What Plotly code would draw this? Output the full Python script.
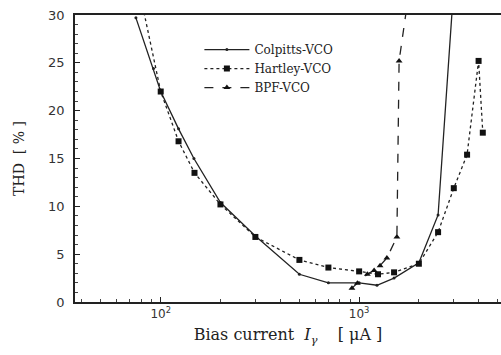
import plotly.graph_objects as go

# Data (bias current in uA, THD in %)
colpitts_x = [75, 92, 100, 123, 147, 200, 300, 500, 700, 1000, 1230, 1500, 2000, 2500, 3000]
colpitts_y = [29.7, 24.4, 22.0, 18.1, 15.0, 10.4, 6.9, 2.9, 2.0, 2.0, 1.75, 2.5, 4.1, 9.1, 33.0]

hartley_x = [80, 100, 123, 148, 200, 300, 500, 700, 1000, 1245, 1500, 2000, 2500, 3000, 3500, 4000, 4200]
hartley_y = [31.5, 22.0, 16.8, 13.5, 10.2, 6.8, 4.4, 3.6, 3.2, 2.9, 3.1, 4.0, 7.3, 11.9, 15.4, 25.2, 17.7]

bpf_x = [920, 980, 1100, 1190, 1275, 1380, 1550, 1590, 1800]
bpf_y = [1.45, 1.95, 2.9, 3.3, 3.8, 4.6, 6.8, 25.2, 33.0]

x_tickvals = [100, 1000]
x_ticktext = ["10<sup>2</sup>", "10<sup>3</sup>"]
y_tickvals = [0, 5, 10, 15, 20, 25, 30]

fig = go.Figure()
fig.add_trace(go.Scatter(x=colpitts_x, y=colpitts_y, name="Colpitts-VCO", mode="lines+markers",
                         line=dict(color="#222", width=1.3, dash="solid"),
                         marker=dict(symbol="circle", size=3, color="#222")))
fig.add_trace(go.Scatter(x=hartley_x, y=hartley_y, name="Hartley-VCO", mode="lines+markers",
                         line=dict(color="#222", width=1.3, dash="dot"),
                         marker=dict(symbol="square", size=6, color="#111")))
fig.add_trace(go.Scatter(x=bpf_x, y=bpf_y, name="BPF-VCO", mode="lines+markers",
                         line=dict(color="#222", width=1.3, dash="dash"),
                         marker=dict(symbol="triangle-up", size=6, color="#111")))

fig.update_layout(
    width=501, height=355,
    margin=dict(l=75, r=0, t=15, b=53),
    paper_bgcolor="white", plot_bgcolor="white",
    showlegend=True,
    legend=dict(x=0.292, y=0.93, xanchor="left", yanchor="top",
                font=dict(family="DejaVu Serif", size=12, color="#222"),
                bgcolor="rgba(255,255,255,0)", itemwidth=45, tracegroupgap=0),
    xaxis=dict(type="log", range=[1.568, 3.715], tickvals=x_tickvals, ticktext=x_ticktext,
               automargin=False,
               ticks="inside", ticklen=5, tickcolor="#222", showgrid=False,
               showline=True, linecolor="#222", linewidth=1.5, mirror=True,
               minor=dict(ticks="inside", ticklen=3, tickcolor="#444", dtick="D1", showgrid=False),
               tickfont=dict(family="DejaVu Sans", size=12, color="#333"),
               title=dict(text="Bias current  <i>I</i><sub><i>γ</i></sub>    [ μA ]",
                          font=dict(family="DejaVu Serif", size=16, color="#222"), standoff=9),
               zeroline=False),
    yaxis=dict(range=[0, 30], tickvals=y_tickvals, ticks="inside", ticklen=5, tickcolor="#222",
               automargin=False,
               showgrid=False, showline=True, linecolor="#222", linewidth=1.5, mirror=False,
               minor=dict(ticks="inside", ticklen=3, tickcolor="#444", dtick=1, showgrid=False),
               tickfont=dict(family="DejaVu Sans", size=13, color="#333"),
               ticklabelstandoff=6,
               title=dict(text="THD  [ % ]", font=dict(family="DejaVu Serif", size=14, color="#222"),
                          standoff=20),
               zeroline=False),
)

fig.write_html("out.html", config={"displayModeBar": False},
               post_script="document.body.style.margin='0';document.body.style.overflow='hidden';")
